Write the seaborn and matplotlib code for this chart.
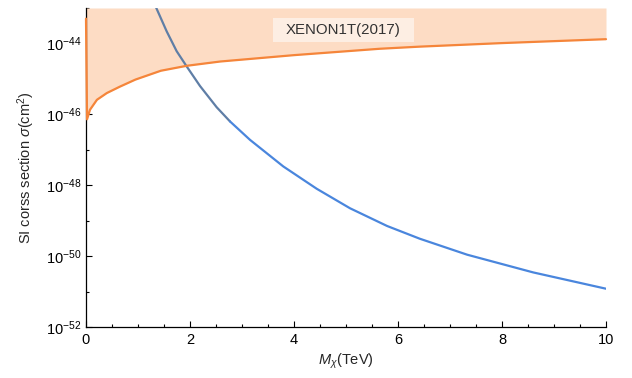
import numpy as np
import pandas as pd
import matplotlib

matplotlib.use('Agg')
import matplotlib.pyplot as plt
import matplotlib.ticker as mticker
from matplotlib.patches import Rectangle
import seaborn as sns

# XENON1T(2017) limit (mass in TeV, log10 of sigma in cm^2)
xenon_mass = [0.0, 0.0, 0.02, 0.077, 0.21, 0.40, 0.65, 0.95, 1.44, 1.94,
              2.58, 4.0, 5.65, 6.42, 8.0, 10.0]
xenon_logsig = [-43.0, -46.0, -46.14, -45.87, -45.59, -45.40, -45.22, -45.02,
                -44.77, -44.63, -44.51, -44.33, -44.15, -44.09, -43.99, -43.88]

# model prediction curve
model_mass = [1.30, 1.346, 1.552, 1.744, 1.937, 2.192, 2.513, 2.769, 3.154,
              3.794, 4.437, 5.077, 5.79, 6.42, 7.33, 8.6, 10.0]
model_logsig = [-42.80, -42.98, -43.66, -44.22, -44.65, -45.20, -45.80, -46.20,
                -46.72, -47.47, -48.10, -48.65, -49.15, -49.51, -49.96, -50.46,
                -50.92]
split_mass = 2.769  # where the curve changes shade

y_major = [-52, -50, -48, -46, -44]
y_minor = [-51, -49, -47, -45, -43]

sns.set_style("ticks")
plt.rcParams['font.family'] = ['Liberation Sans', 'DejaVu Sans']
plt.rcParams['mathtext.fontset'] = 'custom'
plt.rcParams['mathtext.rm'] = 'Liberation Sans'
plt.rcParams['mathtext.it'] = 'Liberation Sans:italic'

xen = pd.DataFrame({'m': xenon_mass, 'sig': 10.0 ** np.array(xenon_logsig)})
mod = pd.DataFrame({'m': model_mass, 'sig': 10.0 ** np.array(model_logsig)})

fig = plt.figure(figsize=(6.32, 3.78), dpi=100)
ax = fig.add_axes([86 / 632, 1 - 327 / 378, 520 / 632, 319 / 378])

ymin, ymax = 1e-52, 1e-43
ax.fill_between(xen['m'], xen['sig'], ymax, color='#fddcc4', lw=0, zorder=1)

upper = mod[mod['m'] <= split_mass]
lower = mod[mod['m'] >= split_mass]
sns.lineplot(data=upper, x='m', y='sig', ax=ax, color='#5f7ea6', lw=1.6, sort=False, zorder=3)
sns.lineplot(data=lower, x='m', y='sig', ax=ax, color='#4a86dd', lw=1.6, sort=False, zorder=3)
sns.lineplot(data=xen, x='m', y='sig', ax=ax, color='#f5853a', lw=1.6, sort=False, zorder=4)
ax.lines[-1].set_clip_on(False)

ax.set_yscale('log')
ax.set_xlim(0, 10)
ax.set_ylim(ymin, ymax)

ax.yaxis.set_major_locator(mticker.FixedLocator([10.0 ** e for e in y_major]))
ax.yaxis.set_minor_locator(mticker.FixedLocator([10.0 ** e for e in y_minor]))
ax.set_yticklabels([r'$10^{%d}$' % e for e in y_major])
ax.yaxis.set_minor_formatter(mticker.NullFormatter())
ax.xaxis.set_major_locator(mticker.MultipleLocator(2))
ax.xaxis.set_minor_locator(mticker.MultipleLocator(0.5))

ax.tick_params(which='both', direction='in', width=0.8, colors='black', labelsize=10.5)
ax.tick_params(which='major', length=4)
ax.tick_params(which='minor', length=2.5)
ax.tick_params(axis='x', pad=4)

for side in ['top', 'right']:
    ax.spines[side].set_visible(False)
for side in ['left', 'bottom']:
    ax.spines[side].set_linewidth(0.9)
    ax.spines[side].set_color('black')

ax.set_xlabel(r'$M_\chi$(TeV)', fontsize=10.5, labelpad=4)
ax.set_ylabel(r'SI corss section $\sigma$(cm$^2$)', fontsize=10.5, labelpad=6)

# label box
ax.add_patch(Rectangle((3.6, 10.0 ** -43.96), 2.71, 10.0 ** -43.28 - 10.0 ** -43.96,
                       fc='#fdeee3', ec='none', zorder=5))
ax.text(4.95, 10.0 ** -43.62, 'XENON1T(2017)', ha='center', va='center', fontsize=10.8,
        color='#333333', zorder=6)

plt.savefig('out.png', dpi=100)
plt.close()
